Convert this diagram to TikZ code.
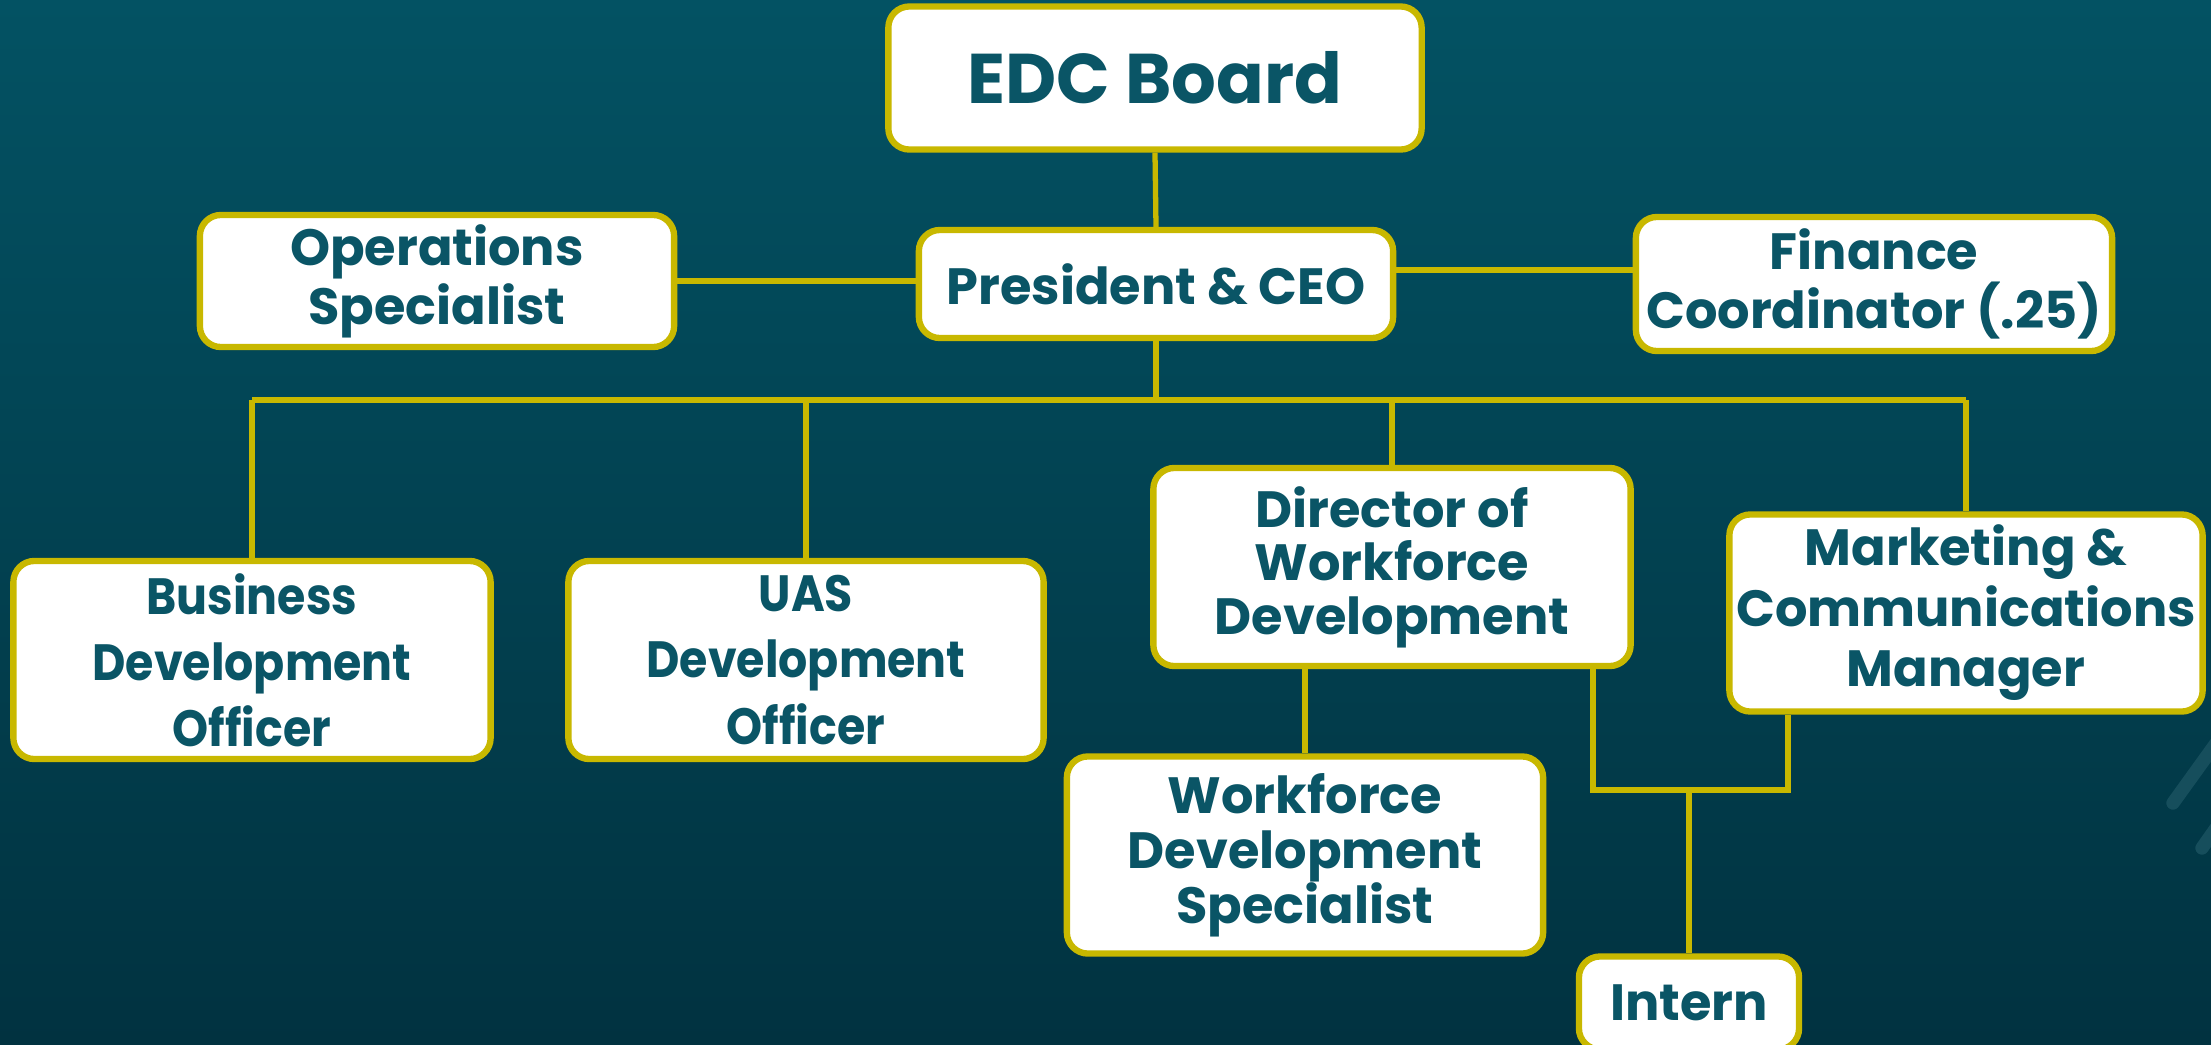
\documentclass[tikz,border=0pt]{standalone}
\usepackage{fontspec}
\setmainfont{Poppins}
\newfontfamily\narrowfont{Poppins}[FakeStretch=0.9]
\definecolor{bgtop}{RGB}{3,82,99}
\definecolor{bgbot}{RGB}{1,50,64}
\definecolor{txt}{RGB}{10,85,102}
\definecolor{gold}{RGB}{200,184,0}
\definecolor{deco}{RGB}{22,78,92}
\begin{document}
\begin{tikzpicture}[x=0.01cm,y=-0.01cm,
  box/.style={draw=gold, line width=1.8pt, fill=white, rounded corners=6pt,
    text=txt, align=center, inner sep=0pt,
    font=\bfseries\fontsize{14.5}{16.8}\selectfont},
  spacing/.style={font=\bfseries\fontsize{14.5}{#1}\selectfont},
  narrowbox/.style={box, font=\narrowfont\bfseries\fontsize{14.5}{18.8}\selectfont},
  link/.style={draw=gold, line width=1.5pt},
  decoline/.style={draw=deco, line width=3.8pt, line cap=round}]
\useasboundingbox (0,0) rectangle (2211,1045);
\clip (0,0) rectangle (2211,1045);
\shade[top color=bgtop, bottom color=bgbot] (0,0) rectangle (2211,1045);
\draw[decoline] (2173,803) -- (2240,710);
\draw[decoline] (2202,848) -- (2250,780);
% nodes
\node[box, minimum width=5.33cm, minimum height=1.43cm,
  font=\bfseries\fontsize{20}{24}\selectfont] (board) at (1155,78) {EDC Board};
\node[box, minimum width=4.74cm, minimum height=1.08cm] (ceo) at (1156,284) {President \& CEO};
\node[box, minimum width=4.74cm, minimum height=1.32cm] (ops) at (437,281) {Operations\\Specialist};
\node[box, minimum width=4.76cm, minimum height=1.34cm] (fin) at (1874,284) {Finance\\Coordinator (.25)};
\node[narrowbox, minimum width=4.77cm, minimum height=1.98cm] (bdo) at (252,660) {Business\\Development\\Officer};
\node[narrowbox, minimum width=4.75cm, minimum height=1.98cm] (uas) at (806,660) {UAS\\Development\\Officer};
\node[box, spacing=15.2, minimum width=4.77cm, minimum height=1.98cm] (dir) at (1392,567) {Director of\\Workforce\\Development};
\node[box, spacing=17.2, minimum width=4.73cm, minimum height=1.97cm] (mkt) at (1966,613) {Marketing \&\\Communications\\Manager};
\node[box, spacing=15.6, minimum width=4.76cm, minimum height=1.97cm] (wds) at (1305,855) {Workforce\\Development\\Specialist};
\node[box, minimum width=2.20cm, minimum height=0.93cm] (intern) at (1689,1003) {Intern};
% connectors
\coordinate (bus) at (1159,400);
\coordinate (dl) at (1593,790);
\coordinate (mr) at (1788,790);
\draw[link] (board.south) -- (ceo.north);
\draw[link] (ops.east) -- (ops.east -| ceo.west);
\draw[link] (ceo.east |- 0,270) -- (fin.west |- 0,270);
\draw[link] (ceo.south) -- (ceo.south |- bus);
\draw[link] (bdo.north |- bus) -- (mkt.north |- bus);
\draw[link] (bdo.north |- bus) -- (bdo.north);
\draw[link] (uas.north |- bus) -- (uas.north);
\draw[link] (dir.north |- bus) -- (dir.north);
\draw[link] (mkt.north |- bus) -- (mkt.north);
\draw[link] (wds.north |- dir.south) -- (wds.north);
\draw[link] (dl |- dir.south) -- (dl) -- (mr) -- (mr |- mkt.south);
\draw[link] (intern.north |- mr) -- (intern.north);
\end{tikzpicture}
\end{document}
